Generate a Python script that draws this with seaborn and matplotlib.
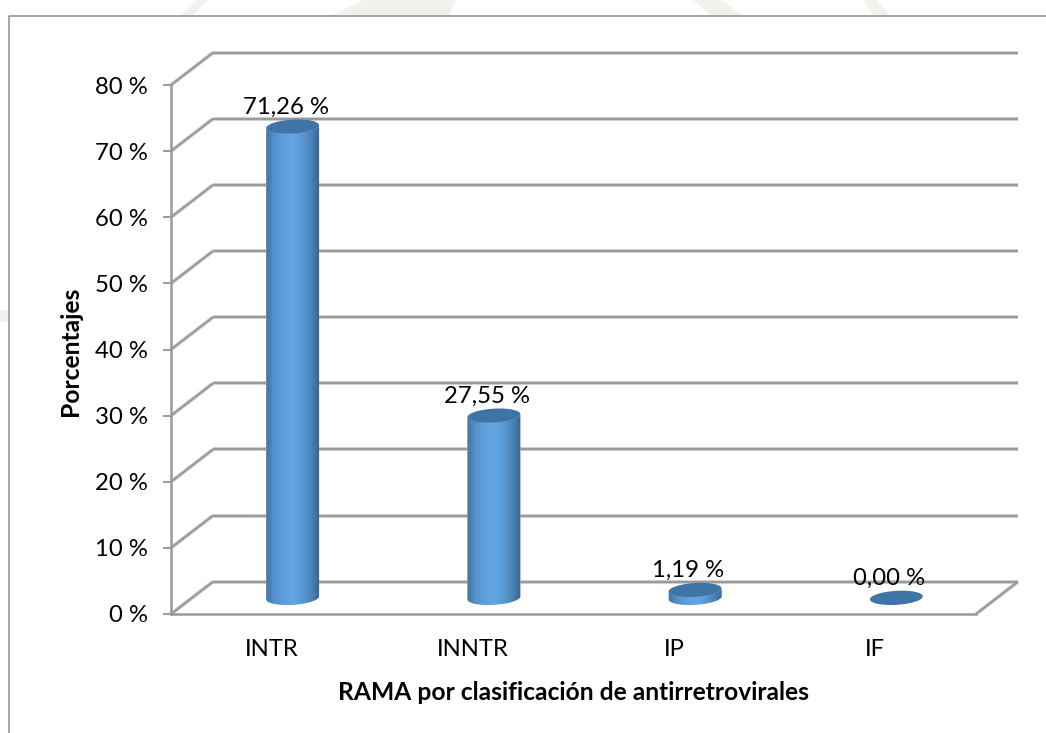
import numpy as np
import pandas as pd
import matplotlib
matplotlib.use("Agg")
import matplotlib.pyplot as plt
import seaborn as sns
from matplotlib.colors import LinearSegmentedColormap
from matplotlib.lines import Line2D
from matplotlib.patches import Polygon
from matplotlib.transforms import IdentityTransform, Affine2D

categories = ["INTR", "INNTR", "IP", "IF"]
values = [71.26, 27.55, 1.19, 0.00]
value_labels = ["71,26 %", "27,55 %", "1,19 %", "0,00 %"]
y_ticks = [0, 10, 20, 30, 40, 50, 60, 70, 80]
y_tick_labels = [f"{t} %" for t in y_ticks]
x_title = "RAMA por clasificación de antirretrovirales"
y_title = "Porcentajes"

W, H = 1046, 733
GRID = "#9a9a9a"
HALO = "#d4d4d4"
DEPTH_X, DEPTH_Y = 42.0, 32.3
SEMI_A, SEMI_B, TILT = 26.5, 7.0, np.deg2rad(3.5)
FS = 17.2

sns.set_theme(style="white")
plt.rcParams["font.family"] = ["Lato", "DejaVu Sans"]

fig = plt.figure(figsize=(W / 100, H / 100), dpi=100, facecolor="white")

# faint watermark remnants showing around the chart frame (pixel outlines)
watermark = [
    [(180, 15), (197, 0), (208, 0), (193, 15)],
    [(332, 15), (363, 0), (455, 0), (450, 15)],
    [(693, 0), (720, 0), (743, 15), (710, 15)],
    [(863, 0), (877, 0), (890, 15), (873, 15)],
    [(0, 310), (8, 310), (8, 322), (0, 322)],
]
for shape in watermark:
    fig.add_artist(Polygon([(x / W, 1 - y / H) for x, y in shape], closed=True,
                           transform=fig.transFigure, fc="#f3f1ee", ec="none"))

ax = fig.add_axes([171 / W, 1 - 614 / H, 805 / W, 529 / H])
df = pd.DataFrame({"cat": categories, "val": values})
sns.barplot(data=df, x="cat", y="val", color="#5b9bd5", width=0.263, saturation=1,
            ax=ax, zorder=3)
ax.set_xlim(-0.5, 3.5)
ax.set_ylim(0, 80)
ax.set_yticks(y_ticks, y_tick_labels)
ax.tick_params(axis="y", length=5.8, width=1.4, color=GRID, labelsize=FS, pad=11,
               labelcolor="black", left=True)
ax.tick_params(axis="x", length=0, labelsize=FS, pad=18, labelcolor="black")
ax.set_xlabel("")
ax.set_ylabel("")
ax.patch.set_alpha(0)
for name in ["top", "right"]:
    ax.spines[name].set_visible(False)
for name in ["left", "bottom"]:
    ax.spines[name].set_color(GRID)
    ax.spines[name].set_linewidth(1.8)

fig.canvas.draw()
ident = IdentityTransform()


def to_px(x, y):
    return ax.transData.transform((x, y))


def seg(p, q):
    for color, lw, z in [(HALO, 2.8, 0.9), (GRID, 1.6, 1)]:
        ax.add_line(Line2D([p[0], q[0]], [p[1], q[1]], transform=ident, color=color, lw=lw,
                           clip_on=False, zorder=z, solid_capstyle="butt"))


for t in y_ticks:
    front = to_px(-0.5, t)
    seg(front, front + [DEPTH_X, DEPTH_Y])
    seg(front + [DEPTH_X, DEPTH_Y], to_px(3.5, t) + [DEPTH_X, DEPTH_Y])
seg(to_px(3.5, 0), to_px(3.5, 0) + [DEPTH_X, DEPTH_Y])


def ellipse_pts(cx, cy, t):
    px = SEMI_A * np.cos(t)
    py = SEMI_B * np.sin(t)
    return np.column_stack([cx + px * np.cos(TILT) - py * np.sin(TILT),
                            cy + px * np.sin(TILT) + py * np.cos(TILT)])


cmap = LinearSegmentedColormap.from_list(
    "cyl", ["#41729f", "#5490ca", "#5d9fdc", "#62a6e2", "#5a9bd6", "#4c85bb", "#386490"])
ramp = np.linspace(0, 1, 128)[None, :]
t_low = np.linspace(np.pi, 2 * np.pi, 60)
t_all = np.linspace(0, 2 * np.pi, 120)

for i, (bar, v) in enumerate(zip(ax.patches, values)):
    bar.set_transform(ax.transData + Affine2D().translate(DEPTH_X / 2, DEPTH_Y / 2))
    base = to_px(i, 0) + [DEPTH_X / 2, DEPTH_Y / 2]
    top = to_px(i, v) + [DEPTH_X / 2, DEPTH_Y / 2]
    if v > 0:
        outline = np.vstack([ellipse_pts(*base, t_low), ellipse_pts(*top, t_low[::-1])])
        body = Polygon(outline, closed=True, transform=ident, fc="none", ec="none", zorder=3)
        ax.add_patch(body)
        bar.set_clip_path(body)
        im = ax.imshow(ramp, cmap=cmap, aspect="auto", transform=ident, zorder=4,
                       extent=(base[0] - SEMI_A - 1, base[0] + SEMI_A + 1, base[1] - 10, top[1] + 10),
                       interpolation="bilinear")
        im.set_clip_path(body)
    ax.add_patch(Polygon(ellipse_pts(*top, t_all), closed=True, transform=ident,
                         fc="#3f75a6", ec="none", zorder=5))
    ax.annotate(value_labels[i], xy=top, xycoords=ident, xytext=(-5, 6.5),
                textcoords="offset points", ha="center", va="bottom", fontsize=FS,
                color="black", zorder=6, annotation_clip=False)
ax.set_xlim(-0.5, 3.5)
ax.set_ylim(0, 80)
ax.set_aspect("auto")

fig.text(574 / W, 1 - 693 / H, x_title, ha="center", va="center", fontsize=17.7,
         fontweight="bold", color="black")
fig.text(70 / W, 1 - 351 / H, y_title, ha="center", va="center", rotation=90, fontsize=17.7,
         fontweight="bold", color="black")

fig.add_artist(Line2D([9 / W, 9 / W, 1], [0, 1 - 15.5 / H, 1 - 15.5 / H],
                      transform=fig.transFigure, color="#8c8c8c", lw=1.1))
fig.savefig("out.png", dpi=100)
